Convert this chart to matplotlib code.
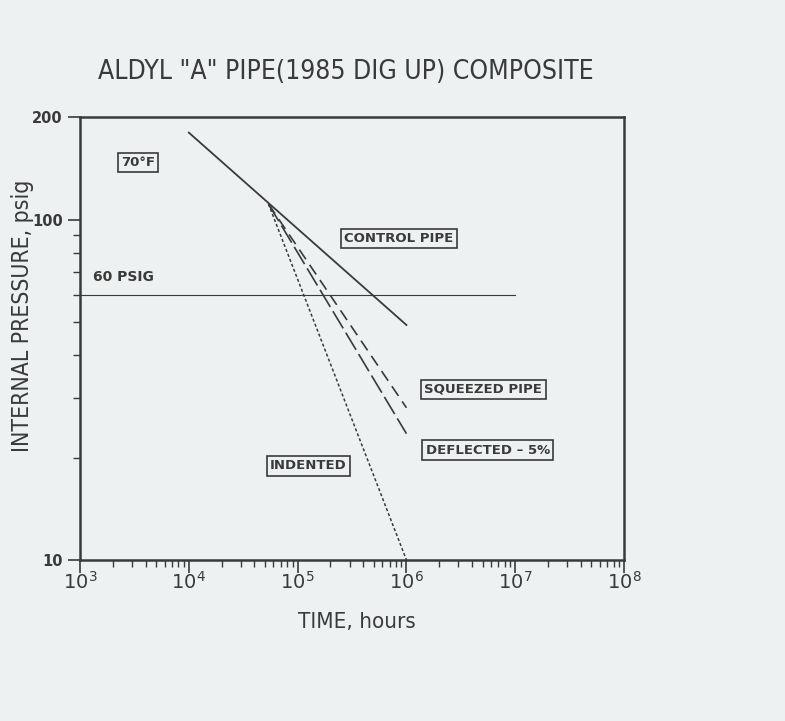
import matplotlib.pyplot as plt
from matplotlib.ticker import LogLocator, FixedLocator, NullFormatter

# data (time in hours, pressure in psig)
control_t = [1e4, 1e6]
control_p = [180, 49]
knee_t = 5.4e4
knee_p = 111
squeezed_t = [knee_t, 1e6]
squeezed_p = [knee_p, 28]
deflected_t = [knee_t, 1e6]
deflected_p = [knee_p, 23.5]
indented_t = [knee_t, 1e6]
indented_p = [knee_p, 10]
limit_t = [1e3, 1e7]
limit_p = [60, 60]

ink = "#3a3a3a"
bg = "#eef1f1"
plt.rcParams["font.family"] = ["DejaVu Sans"]

fig = plt.figure(figsize=(7.85, 7.21), dpi=100, facecolor=bg)
ax = fig.add_axes([0.1019, 0.2233, 0.6931, 0.6144])
ax.set_facecolor(bg)
ax.set_xscale("log")
ax.set_yscale("log")
ax.set_xlim(1e3, 1e8)
ax.set_ylim(10, 200)

ax.plot(control_t, control_p, color=ink, lw=1.3)
ax.plot(squeezed_t, squeezed_p, color=ink, lw=1.2, dashes=(7, 4))
ax.plot(deflected_t, deflected_p, color=ink, lw=1.2, dashes=(12, 3))
ax.plot(indented_t, indented_p, color=ink, lw=1.1, dashes=(2, 1.5))
ax.plot(limit_t, limit_p, color=ink, lw=0.8)

for s in ax.spines.values():
    s.set_color(ink)
    s.set_linewidth(1.8)

ax.xaxis.set_major_locator(LogLocator(base=10, numticks=10))
ax.xaxis.set_minor_locator(LogLocator(base=10, subs=range(2, 10), numticks=20))
ax.xaxis.set_minor_formatter(NullFormatter())
ax.set_xticklabels([])
ax.yaxis.set_major_locator(FixedLocator([10, 100, 200]))
ax.yaxis.set_minor_locator(FixedLocator([20, 30, 40, 50, 60, 70, 80, 90]))
ax.yaxis.set_minor_formatter(NullFormatter())
ax.set_yticklabels(["10", "100", "200"], fontsize=10.5, fontweight="bold", color=ink)
ax.tick_params(which="major", direction="out", length=9, width=1.2, color=ink)
ax.tick_params(which="minor", direction="out", length=5, width=1.0, color=ink)
for e in range(3, 9):
    ax.text(10.0 ** e, 10 / 1.075, f"$10^{{{e}}}$", ha="center", va="top", fontsize=14, color=ink)

ax.set_xlabel("TIME, hours", fontsize=16, color=ink, fontstretch="condensed")
ax.xaxis.set_label_coords(0.509, -0.117)
ax.set_ylabel("INTERNAL PRESSURE, psig", fontsize=16.5, color=ink, fontstretch="condensed")
ax.yaxis.set_label_coords(-0.084, 0.551)
fig.text(0.44, 0.9, 'ALDYL "A" PIPE(1985 DIG UP) COMPOSITE', ha="center", va="center",
         fontsize=19, color=ink, fontstretch="condensed")

box = dict(boxstyle="square,pad=0.25", fc=bg, ec=ink, lw=1.2)
labels = [("70°F", 3.4e3, 147), ("CONTROL PIPE", 8.5e5, 88), ("SQUEEZED PIPE", 5.1e6, 31.7),
          ("DEFLECTED – 5%", 5.6e6, 21), ("INDENTED", 1.26e5, 18.9)]
for txt, x, y in labels:
    ax.text(x, y, txt, ha="center", va="center", fontsize=9.5, fontweight="bold",
            color=ink, bbox=box)
ax.text(1.32e3, 67.7, "60 PSIG", ha="left", va="center", fontsize=10, fontweight="bold", color=ink)

fig.savefig("out.png", dpi=100, facecolor=bg)
